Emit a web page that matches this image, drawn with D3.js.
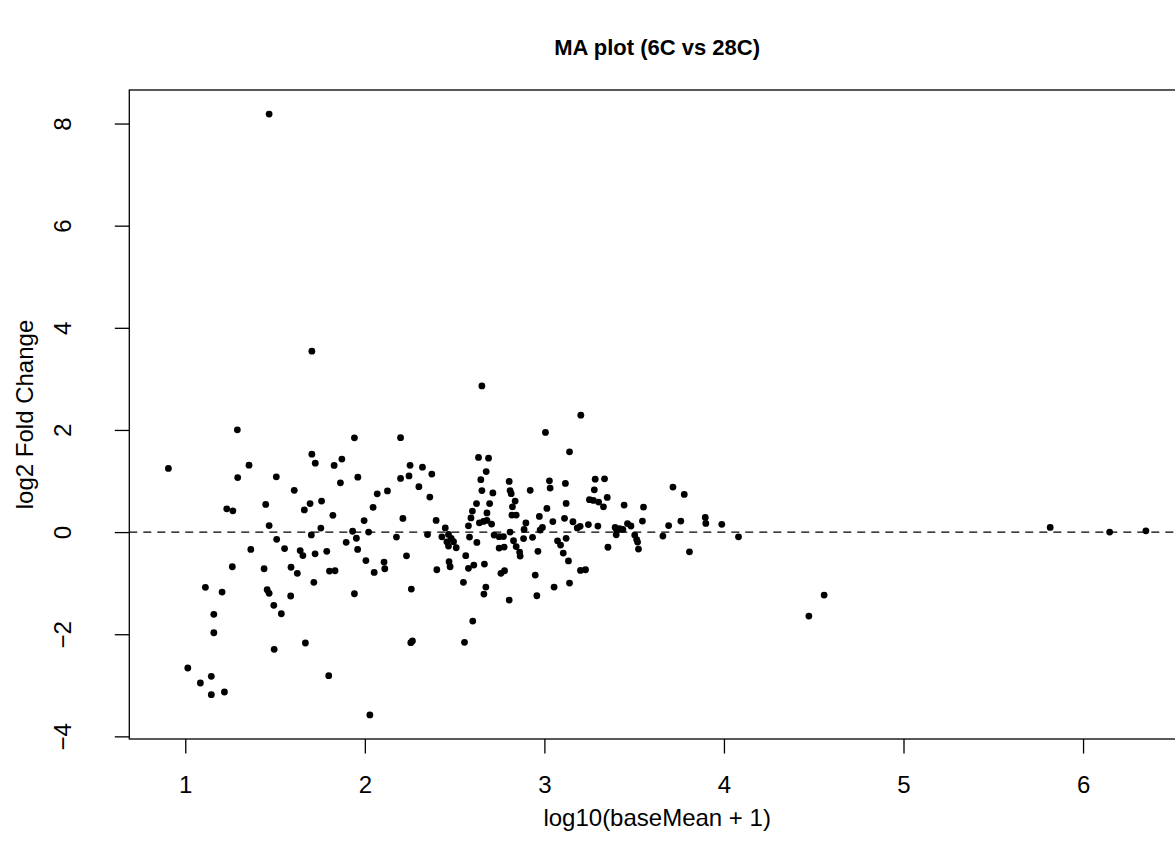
<!DOCTYPE html>
<html>
<head>
<meta charset="utf-8">
<script src="https://cdn.jsdelivr.net/npm/d3@7"></script>
<style>
  body { margin: 0; background: #fff; overflow: hidden; }
  svg { display: block; font-family: "Liberation Sans", Arial, Helvetica, sans-serif; }
</style>
</head>
<body>
<div class="container"></div>
<script>
// log10(baseMean + 1) for each gene
const logBaseMean = [
  0.906, 1.014, 1.084, 1.112, 1.145, 1.145, 1.159, 1.159, 1.205, 1.218,
  1.231, 1.265, 1.262, 1.290, 1.292, 1.355, 1.365, 1.439, 1.448, 1.456,
  1.467, 1.467, 1.467, 1.493, 1.495, 1.507, 1.509, 1.535, 1.553, 1.587,
  1.589, 1.607, 1.624, 1.640, 1.655, 1.663, 1.669, 1.695, 1.702, 1.705,
  1.705, 1.716, 1.724, 1.723, 1.759, 1.755, 1.788, 1.799, 1.803, 1.834,
  1.822, 1.829, 1.864, 1.872, 1.896, 1.932, 1.942, 1.942, 1.953, 1.960,
  1.961, 1.996, 2.006, 2.021, 2.028, 2.046, 2.052, 2.069, 2.107, 2.111,
  2.126, 2.176, 2.199, 2.199, 2.212, 2.232, 2.246, 2.252, 2.256, 2.265,
  2.259, 2.301, 2.321, 2.349, 2.362, 2.373, 2.397, 2.401, 2.429, 2.448,
  2.457, 2.466, 2.466, 2.469, 2.475, 2.481, 2.494, 2.509, 2.549, 2.555,
  2.562, 2.577, 2.577, 2.583, 2.591, 2.599, 2.601, 2.607, 2.622, 2.624,
  2.633, 2.638, 2.646, 2.652, 2.652, 2.661, 2.666, 2.674, 2.663, 2.676,
  2.680, 2.680, 2.689, 2.695, 2.706, 2.713, 2.720, 2.748, 2.748, 2.758,
  2.772, 2.776, 2.778, 2.804, 2.804, 2.809, 2.815, 2.809, 2.822, 2.819,
  2.837, 2.843, 2.828, 2.843, 2.862, 2.865, 2.884, 2.887, 2.897, 2.921,
  2.934, 2.949, 2.958, 2.964, 2.972, 2.976, 2.989, 3.006, 3.014, 3.028,
  3.032, 3.047, 3.054, 3.073, 3.090, 3.105, 3.112, 3.117, 3.121, 3.121,
  3.134, 3.140, 3.140, 3.159, 3.183, 3.199, 3.201, 3.203, 3.229, 3.245,
  3.251, 3.273, 3.302, 3.278, 3.283, 3.298, 3.329, 3.335, 3.350, 3.354,
  3.394, 3.403, 3.400, 3.418, 3.437, 3.444, 3.463, 3.482, 3.503, 3.514,
  3.519, 3.524, 3.546, 3.552, 3.660, 3.692, 3.716, 3.760, 3.779, 3.808,
  3.896, 3.899, 3.988, 4.081, 4.473, 4.558, 5.817, 6.148, 6.350
]

// log2 fold change, same order
const log2FC = [
  1.247, -2.661, -2.955, -1.082, -2.824, -3.184, -1.611, -1.971, -1.174, -3.131,
  0.456, 0.417, -0.679, 2.002, 1.067, 1.311, -0.339, -0.718, 0.542, -1.129,
  -1.200, 0.127, 8.186, -1.434, -2.295, 1.082, -0.141, -1.599, -0.323, -1.252,
  -0.689, 0.818, -0.808, -0.362, -0.460, 0.434, -2.172, 0.558, -0.055, 3.542,
  1.526, -0.984, 1.350, -0.425, 0.607, 0.078, -0.376, -2.812, -0.763, -0.757,
  0.329, 1.305, 0.965, 1.429, -0.200, 0.016, 1.845, -1.207, -0.121, -0.339,
  1.076, 0.225, -0.558, 0.000, -3.581, 0.485, -0.789, 0.750, -0.587, -0.718,
  0.806, -0.098, 1.849, 1.051, 0.268, -0.464, 1.100, 1.307, -2.166, -2.133,
  -1.115, 0.890, 1.272, -0.049, 0.685, 1.135, 0.229, -0.738, -0.092, 0.082,
  -0.190, -0.045, -0.274, -0.581, -0.679, -0.123, -0.188, -0.307, -0.984, -2.159,
  -0.462, 0.123, -0.710, -0.098, 0.278, 0.411, -1.742, -0.646, 0.558, -0.202,
  1.462, 0.182, 1.027, 2.863, 0.812, 0.209, -0.626, -1.076, -1.213, 1.184,
  0.376, 0.229, 1.448, 0.558, 0.157, 0.767, -0.059, -0.090, -0.313, -0.808,
  -0.088, -0.294, -0.757, 0.992, -1.331, 0.812, 0.753, 0.000, 0.495, 0.333,
  0.607, 0.333, -0.170, -0.284, -0.391, -0.470, -0.127, 0.053, 0.180, 0.818,
  -0.102, -0.841, -1.247, -0.376, 0.307, 0.039, 0.092, 1.951, 0.464, 1.004,
  0.861, 0.205, -1.076, -0.172, -0.254, -0.411, 0.270, 0.953, 0.562, -0.123,
  -0.564, 1.571, -0.998, 0.202, 0.082, 0.112, -0.750, 2.290, -0.738, 0.147,
  0.634, 0.620, 0.587, 0.828, 1.037, 0.117, 0.495, 1.043, 0.679, -0.297,
  0.092, 0.029, -0.053, 0.065, 0.053, 0.528, 0.166, 0.119, -0.059, -0.147,
  -0.196, -0.333, 0.215, 0.489, -0.078, 0.127, 0.881, 0.215, 0.738, -0.386,
  0.288, 0.170, 0.151, -0.092, -1.644, -1.233, 0.092, 0.000, 0.025
]

const xTicks = [1, 2, 3, 4, 5, 6]
const yTicks = [-4, -2, 0, 2, 4, 6, 8]
const chartTitle = "MA plot (6C vs 28C)"
const xLabel = "log10(baseMean + 1)"
const yLabel = "log2 Fold Change"

document.addEventListener('DOMContentLoaded', function(){

    const width = 1175
    const height = 863
    // plot region runs a little past the right edge of the window, like the original
    const plot = {"left": 129.3, "right": 1185, "top": 90, "bottom": 739}
    const font = '"Liberation Sans", Arial, Helvetica, sans-serif'
    const labelSize = 24

    const data = logBaseMean.map((x, i) => ({x: x, y: log2FC[i]}))

    // R style axis ranges: data range padded by 4% on each side
    const pad = (ext) => {
        const d = (ext[1] - ext[0]) * 0.04
        return [ext[0] - d, ext[1] + d]
    }

    const xScale = d3.scaleLinear()
        .domain(pad(d3.extent(data, d => d.x)))
        .range([plot.left, plot.right])

    const yScale = d3.scaleLinear()
        .domain(pad(d3.extent(data, d => d.y)))
        .range([plot.bottom, plot.top])

    const svg = d3.select(".container")
        .append("svg")
        .attr("width", width)
        .attr("height", height)

    // x axis
    const xAxis = svg.append("g")
        .attr("transform", `translate(0, ${plot.bottom})`)
        .call(d3.axisBottom(xScale).tickValues(xTicks).tickFormat(d3.format("d"))
            .tickSize(14.5).tickPadding(22))
    xAxis.select(".domain").remove()
    xAxis.selectAll("line").attr("stroke", "#000").attr("stroke-width", 1.3)
    xAxis.selectAll("text")
        .attr("font-size", labelSize)
        .attr("fill", "#000")
        .style("font-family", font)

    // y axis, labels turned sideways
    const yAxis = svg.append("g")
        .attr("transform", `translate(${plot.left}, 0)`)
        .call(d3.axisLeft(yScale).tickValues(yTicks).tickFormat(d3.format("d")).tickSize(14.5))
    yAxis.select(".domain").remove()
    yAxis.selectAll("line").attr("stroke", "#000").attr("stroke-width", 1.3)
    yAxis.selectAll("text")
        .attr("x", 0)
        .attr("dy", 0)
        .attr("text-anchor", "middle")
        .attr("transform", "translate(-58, 0) rotate(-90)")
        .attr("font-size", labelSize)
        .attr("fill", "#000")
        .style("font-family", font)

    // dashed zero line
    svg.append("line")
        .attr("x1", plot.left)
        .attr("x2", plot.right)
        .attr("y1", yScale(0))
        .attr("y2", yScale(0))
        .attr("stroke", "#000")
        .attr("stroke-width", 1.3)
        .attr("stroke-dasharray", "8,6")

    // points
    svg.append("g")
        .selectAll("circle")
        .data(data)
        .enter()
        .append("circle")
            .attr("cx", d => xScale(d.x))
            .attr("cy", d => yScale(d.y))
            .attr("r", 3.4)
            .style("fill", "#000")

    // box around the plot region
    svg.append("rect")
        .attr("x", plot.left)
        .attr("y", plot.top)
        .attr("width", plot.right - plot.left)
        .attr("height", plot.bottom - plot.top)
        .attr("fill", "none")
        .attr("stroke", "#000")
        .attr("stroke-width", 1.3)

    // titles
    const midX = (plot.left + plot.right) / 2
    svg.append("text")
        .attr("x", midX)
        .attr("y", 55)
        .attr("text-anchor", "middle")
        .attr("font-size", 22)
        .attr("font-weight", "bold")
        .text(chartTitle)

    svg.append("text")
        .attr("x", midX)
        .attr("y", 826)
        .attr("text-anchor", "middle")
        .attr("font-size", labelSize)
        .text(xLabel)

    svg.append("text")
        .attr("transform", `translate(33, ${(plot.top + plot.bottom) / 2}) rotate(-90)`)
        .attr("text-anchor", "middle")
        .attr("font-size", labelSize)
        .text(yLabel)

});
</script>
</body>
</html>
